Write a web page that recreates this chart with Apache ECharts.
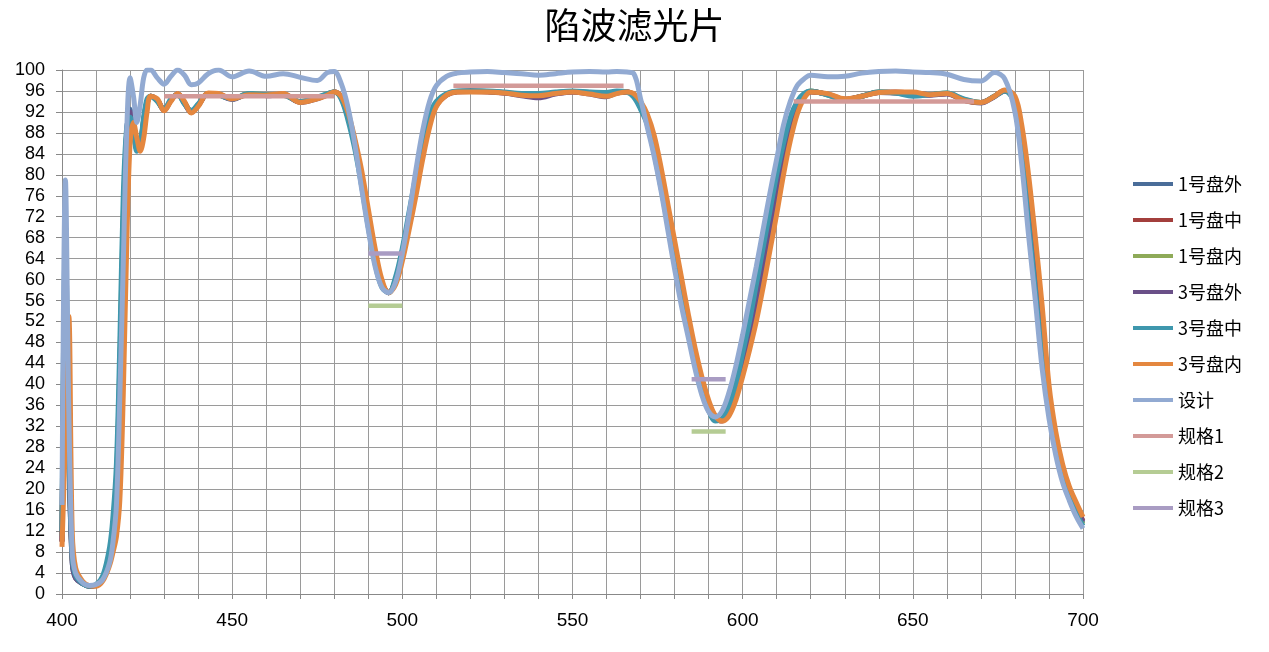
<!DOCTYPE html>
<html>
<head>
<meta charset="utf-8">
<script src="https://cdn.jsdelivr.net/npm/echarts@6/dist/echarts.min.js"></script>
<style>
html, body { margin: 0; padding: 0; background: #fff; }
#main { width: 1269px; height: 652px; }
</style>
</head>
<body>
<div id="main"></div>
<script>
// wavelength (nm), shared by all measured curves
var wl = [
  400,401,402,403,404,406,408,410,412,414,415,416,417,418,419,420,421,422,423,424,425,426,
  428,430,432,434,436,438,440,443,446,450,455,460,465,470,475,478,480,
  482,484,486,488,490,492,494,496,498,500,502,504,506,508,510,513,516,520,
  525,530,535,540,545,550,555,560,563,566,
  568,570,572,574,576,578,580,582,584,586,588,590,592,594,596,598,600,602,604,606,608,610,612,614,616,618,620,
  625,630,635,640,645,650,655,660,665,670,674,677,
  680,682,684,686,688,690,692,694,696,698,700
];

var pan1Out = [
  10,60,28,6,3,2,1.5,1.7,3,7.5,12.5,21,42,70,88,92.5,89,85,86,90.5,94,95,
  94.2,92.5,94.3,95.4,93.7,92,93.3,95.5,95.3,94.5,95.4,95.2,95.3,93.9,94.6,95.4,95.8,
  94.8,91.2,86,79.5,71.5,64.5,59,57.5,60,65,71.5,78,85,90.5,93.5,95.3,95.9,96,
  95.9,95.7,95.3,95,95.6,95.9,95.6,95.3,95.7,95.8,
  95.2,93.2,90.5,85.5,79.5,72.5,65.5,58.5,52,45.5,40,36,33.5,33.2,35,38.5,44,49.5,55.5,62.5,69.5,76.5,83.5,89,93,95,95.9,
  95.3,94.4,95,95.8,95.7,95.4,95.3,95.5,94.3,93.8,95,96.1,
  94,87,75,63,50,37,28.5,22.8,18.8,15.8,13.5
];
var pan1Mid = [
  10,55,30,7,3.2,2.1,1.5,1.6,2.8,6.5,11,19,38,66,86,91,89.5,85.5,85.5,89.5,93.5,95,
  94.3,92.3,94.2,95.4,93.8,92,93.2,95.5,95.4,94.5,95.4,95.2,95.4,93.9,94.6,95.3,95.8,
  94.9,91.5,86.5,80,72.5,65,59.5,57.5,59.5,64.5,70.5,77,84,89.8,93.2,95.2,95.8,95.9,
  95.8,95.6,95.3,95.1,95.5,95.8,95.5,95.1,95.6,95.8,
  95.3,93.5,91,86,80.5,73.5,66.5,59.5,52.5,46,40.5,36.5,33.8,33,34.5,38,43,48.5,54.5,61,68,75,82,88,92.5,94.8,95.8,
  95.4,94.4,95,95.7,95.8,95.6,95.3,95.5,94.2,93.8,95,96.1,
  94.5,88,77,65,52,38.5,29.5,23.5,19.5,16.5,14
];
var pan1In = [
  11,62,29,6.5,3.3,2,1.5,1.7,3.2,8,13,22,44,72,87,91.5,89,85,86,90.5,94,95,
  94.1,92.4,94.3,95.3,93.6,92.1,93.4,95.5,95.2,94.5,95.5,95.3,95.2,94,94.7,95.5,95.8,
  94.7,91,85.8,79,71,64,59,57.5,60,65.5,72,79,85.5,91,93.8,95.4,95.9,96,
  95.9,95.7,95.4,95.3,95.7,95.9,95.7,95.5,95.8,95.8,
  95,93,90,85,78.5,71.5,64.5,57.5,51,45,39.5,35.5,33.2,33.3,35.5,39.2,45,51,57.5,64.5,71.5,78.5,85,90.2,93.5,95.3,96,
  95.2,94.3,95,95.8,95.6,95.2,95.3,95.6,94.4,93.8,95,96,
  93.8,86,73,60.5,47.5,36,28,22.5,18.7,15.7,13.3
];
var pan3Out = [
  10,58,27,6,3,2,1.5,1.7,3,7.5,12.5,21,42,70,88,92,89.5,85.5,86,90,93.5,95,
  94.2,92.3,94.2,95.4,93.6,91.9,93.2,95.5,95.3,94.4,95.4,95.1,95.3,93.8,94.5,95.3,95.8,
  94.8,91.3,86.2,79.5,72,64.8,59.3,57.5,59.8,65,71.2,78,84.8,90.3,93.4,95.3,95.9,96,
  95.9,95.6,95.1,94.7,95.4,95.8,95.4,94.9,95.6,95.8,
  95.2,93.3,90.6,85.8,79.8,72.8,65.8,58.8,52.2,45.8,40.2,36.2,33.6,33.1,34.8,38.3,43.5,49,55,62,69,76,83,88.8,92.8,95,95.9,
  95.3,94.3,95,95.7,95.6,95.3,95.2,95.4,94.2,93.7,94.9,96,
  94.2,87.5,76,64,51,37.8,29,23.2,19.2,16.2,13.8
];
var pan3Mid = [
  12,68,30,7,3.5,2,1.5,1.8,3.5,9,15,25,48,76,89,91,88.5,84.5,86,91,94.5,95,
  94,92.5,94.5,95.3,93.5,92.3,93.5,95.5,95.2,94.5,95.5,95.3,95.2,94,94.8,95.5,95.8,
  94.5,90.5,85,78,70,63,58.5,57.5,60.5,66,73,80,86.5,91.5,94,95.5,96,96,
  96,95.8,95.5,95.5,95.8,96,95.8,95.7,96,95.8,
  94.8,92.5,89.5,84,77.5,70.5,63.5,56.5,50,44,39,35,33,33.5,36,40,46,52,59,66,73,80,86,91,94,95.5,96,
  95.2,94.3,95,95.8,95.6,95,95.3,95.6,94.5,93.8,95,96,
  93.5,84,71,58,45.5,35,27.5,22.3,18.5,15.5,13
];
var pan3In = [
  9,30,53,12,5,2.5,1.6,1.5,2.5,5.5,8,11,18,38,66,86,90,87,84.5,87,92,95,
  94.5,92.2,94,95.5,94,91.8,93,95.6,95.5,94.5,95.3,95.2,95.5,93.8,94.5,95.2,95.8,
  95,92,87,81,73.5,66,60,57.5,59,63.5,69.5,76,83,89,93,95.2,95.8,95.8,
  95.8,95.6,95.2,95.1,95.5,95.8,95.4,95,95.5,95.8,
  95.5,94,91.5,87.5,81.5,74.5,67.5,60.5,53.5,47,41.5,37,34,33,34,37,41.5,46.5,52,58.5,65.5,72.5,80,86.5,91.5,94.5,95.8,
  95.5,94.5,95,95.7,95.8,95.8,95.3,95.5,94.2,93.8,95,96.2,
  95,89.5,80,68,55,40,31,24.8,20.5,17.5,14.7
];
var design = [
  17,79,35,8,4,2.2,1.6,1.8,2.8,6,10,17,38,63,88,98.5,95,90,93.5,98.5,100,100,
  98.5,97.3,98.8,100,99,97.2,97.5,99.3,100,98.7,99.8,98.8,99.3,98.6,98,99.5,99.7,
  97.5,93,86,77.5,69.5,62.5,58.5,57.5,59.5,65,72.5,81,88.5,94,97,98.8,99.4,99.6,
  99.7,99.5,99.3,99,99.3,99.6,99.7,99.6,99.7,99.6,
  99.3,94.5,89,83.5,77,69.5,62,55,49,43,38,34.8,33.8,35,38.5,43.5,49.5,56,62.5,69.5,76.5,83,89.5,94,97,98.3,99,
  98.7,98.8,99.4,99.7,99.8,99.6,99.5,99.2,98.2,97.9,99.5,98.3,
  92,82,68.5,56,43,33.5,26.5,21.3,17.8,14.8,12.5
];

// spec limits: [wavelength, value], null breaks the segment
var spec1 = [[430,95],[480,95],[490,null],[515,97],[565,97],[590,null],[615,94],[668,94]];
var spec2 = [[490,55],[500,55],[540,null],[585,31],[595,31]];
var spec3 = [[490,65],[500,65],[540,null],[585,41],[595,41]];

var names = ['1号盘外','1号盘中','1号盘内','3号盘外','3号盘中','3号盘内','设计','规格1','规格2','规格3'];
var colors = ['#4a6d99','#a33f3c','#8eaa58','#6a5088','#3e97ad','#e4873f','#92aad2','#d39a98','#b5cc94','#a99cc3'];
var curves = [pan1Out, pan1Mid, pan1In, pan3Out, pan3Mid, pan3In, design];

function zip(vals) {
    return wl.map(function (x, i) { return [x, vals[i]]; });
}

var series = [];
curves.forEach(function (vals, i) {
    series.push({
        name: names[i], type: 'line', data: zip(vals),
        smooth: 0.35, symbol: 'none', z: 2 + i,
        lineStyle: {width: 5, color: colors[i]},
        itemStyle: {color: colors[i]}
    });
});
[spec1, spec2, spec3].forEach(function (d, i) {
    series.push({
        name: names[7 + i], type: 'line', data: d,
        symbol: 'none', connectNulls: false, z: 10,
        lineStyle: {width: 4.5, color: colors[7 + i]},
        itemStyle: {color: colors[7 + i]}
    });
});

var chart = echarts.init(document.getElementById('main'), null, {renderer: 'canvas'});
chart.setOption({
    animation: false,
    backgroundColor: '#fff',
    title: {
        text: '陷波滤光片', left: 'center', top: 2,
        textStyle: {fontFamily: 'Noto Sans CJK SC', fontSize: 36, fontWeight: 'normal', color: '#000'}
    },
    legend: {
        orient: 'vertical', left: 1128, top: 168,
        icon: 'rect', itemWidth: 40, itemHeight: 4, itemGap: 14,
        data: names,
        textStyle: {fontFamily: 'Noto Sans CJK SC', fontSize: 18, color: '#000', lineHeight: 22}
    },
    grid: {left: 62, right: 186, top: 70, bottom: 58},
    xAxis: {
        type: 'value', min: 400, max: 700, interval: 10,
        axisLine: {lineStyle: {color: '#888'}},
        axisTick: {show: true, length: 5, lineStyle: {color: '#888'}},
        axisLabel: {
            margin: 17, fontFamily: 'Liberation Sans', fontSize: 19, color: '#000',
            formatter: function (v) { return v % 50 === 0 ? v : ''; }
        },
        splitLine: {show: true, lineStyle: {color: '#9a9a9a'}}
    },
    yAxis: {
        type: 'value', min: 0, max: 100, interval: 4,
        axisLine: {show: true, lineStyle: {color: '#888'}},
        axisTick: {show: true, length: 6, lineStyle: {color: '#888'}},
        axisLabel: {margin: 17, fontFamily: 'Liberation Sans', fontSize: 18, color: '#000'},
        splitLine: {show: true, lineStyle: {color: '#9a9a9a'}}
    },
    series: series
});
</script>
</body>
</html>
